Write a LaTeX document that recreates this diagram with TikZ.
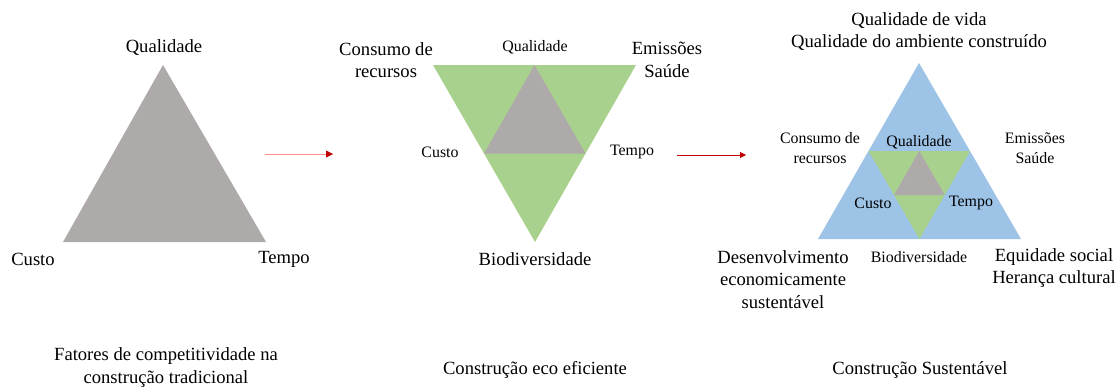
\documentclass[tikz,border=0pt]{standalone}
\usepackage{fontspec}
\setmainfont{LiberationSerif}[Extension=.ttf, UprightFont=*-Regular, BoldFont=*-Bold, ItalicFont=*-Italic, BoldItalicFont=*-BoldItalic]
\usetikzlibrary{calc,arrows.meta}
\tikzset {>=Triangle}
\definecolor{cinza}{HTML}{AEAAAA}
\definecolor{verde}{HTML}{A9D18E}
\definecolor{azul}{HTML}{9DC3E6}
\definecolor{vermelho}{HTML}{C00000}
\tikzset{
  grande/.style={font=\fontsize{18.6}{22.5}\selectfont, align=center, inner sep=0pt},
  pequeno/.style={font=\fontsize{15.9}{20}\selectfont, align=center, inner sep=0pt},
  seta/.style={draw=vermelho, line width=.8pt, -{Triangle[length=6pt,width=6pt]}}
}

\begin{document}
\begin{tikzpicture}[x=1pt,y=-1pt]
\useasboundingbox (0,0) rectangle (1118,389);

% construcao tradicional
\fill[cinza]
  (163,65) coordinate (Q1) --
  (266,242) coordinate (T1) --
  (63,242) coordinate (C1) -- cycle;
\node[grande] (qual1) at (164,48) {Qualidade};
\node[grande] (custo1) at (33,259) {Custo};
\node[grande] (tempo1) at (284,259) {Tempo};

% construcao eco eficiente
\fill[verde]
  (433,65) coordinate (E2) --
  (636,65) coordinate (D2) --
  (535,242) coordinate (B2) -- cycle;
\fill[cinza]
  ($(E2)!.5!(D2)$) coordinate (Q2) --
  ($(D2)!.5!(B2)$) coordinate (T2) --
  ($(E2)!.5!(B2)$) coordinate (C2) -- cycle;
\node[grande] (recursos2) at (386,60) {Consumo de\\recursos};
\node[pequeno] (qual2) at (535,47) {Qualidade};
\node[grande] (emissoes2) at (667,60) {Emissões\\Saúde};
\node[pequeno] (custo2) at (440,152) {Custo};
\node[pequeno] (tempo2) at (632,152) {Tempo};
\node[grande] (bio2) at (535,259) {Biodiversidade};

% construcao sustentavel
\fill[azul]
  (919,63) coordinate (A3) --
  (1021,239) coordinate (R3) --
  (818,239) coordinate (L3) -- cycle;
\fill[verde]
  ($(A3)!.5!(L3)$) coordinate (E3) --
  ($(A3)!.5!(R3)$) coordinate (D3) --
  ($(L3)!.5!(R3)$) coordinate (B3) -- cycle;
\fill[cinza]
  ($(E3)!.5!(D3)$) coordinate (Q3) --
  ($(D3)!.5!(B3)$) coordinate (T3) --
  ($(E3)!.5!(B3)$) coordinate (C3) -- cycle;
\node[grande] (vida3) at (919,31.5) {Qualidade de vida\\Qualidade do ambiente construído};
\node[pequeno] (recursos3) at (820,148) {Consumo de\\recursos};
\node[pequeno] (qual3) at (919,142) {Qualidade};
\node[pequeno] (emissoes3) at (1035,148) {Emissões\\Saúde};
\node[pequeno] (custo3) at (873,203) {Custo};
\node[pequeno] (tempo3) at (971,203) {Tempo};
\node[grande] (desenv3) at (783,279.5) {Desenvolvimento\\economicamente\\sustentável};
\node[pequeno] (bio3) at (919,257) {Biodiversidade};
\node[grande] (equidade3) at (1054,268) {Equidade social\\Herança cultural};

% legendas
\node[grande] (leg1) at (166,367.5) {Fatores de competitividade na\\construção tradicional};
\node[grande] (leg2) at (535,370) {Construção eco eficiente};
\node[grande] (leg3) at (920,370) {Construção Sustentável};

% setas
\coordinate (s1a) at (265,154);
\coordinate (s1b) at (333,154);
\coordinate (s2a) at (677,155);
\coordinate (s2b) at (746,155);
\draw[seta, draw=red!45] (s1a) -- (s1b);
\fill[vermelho] (s1b) -- ++(-7,-3.5) -- ++(0,7) -- cycle;
\draw[seta] (s2a) -- (s2b);
\end{tikzpicture}
\end{document}
